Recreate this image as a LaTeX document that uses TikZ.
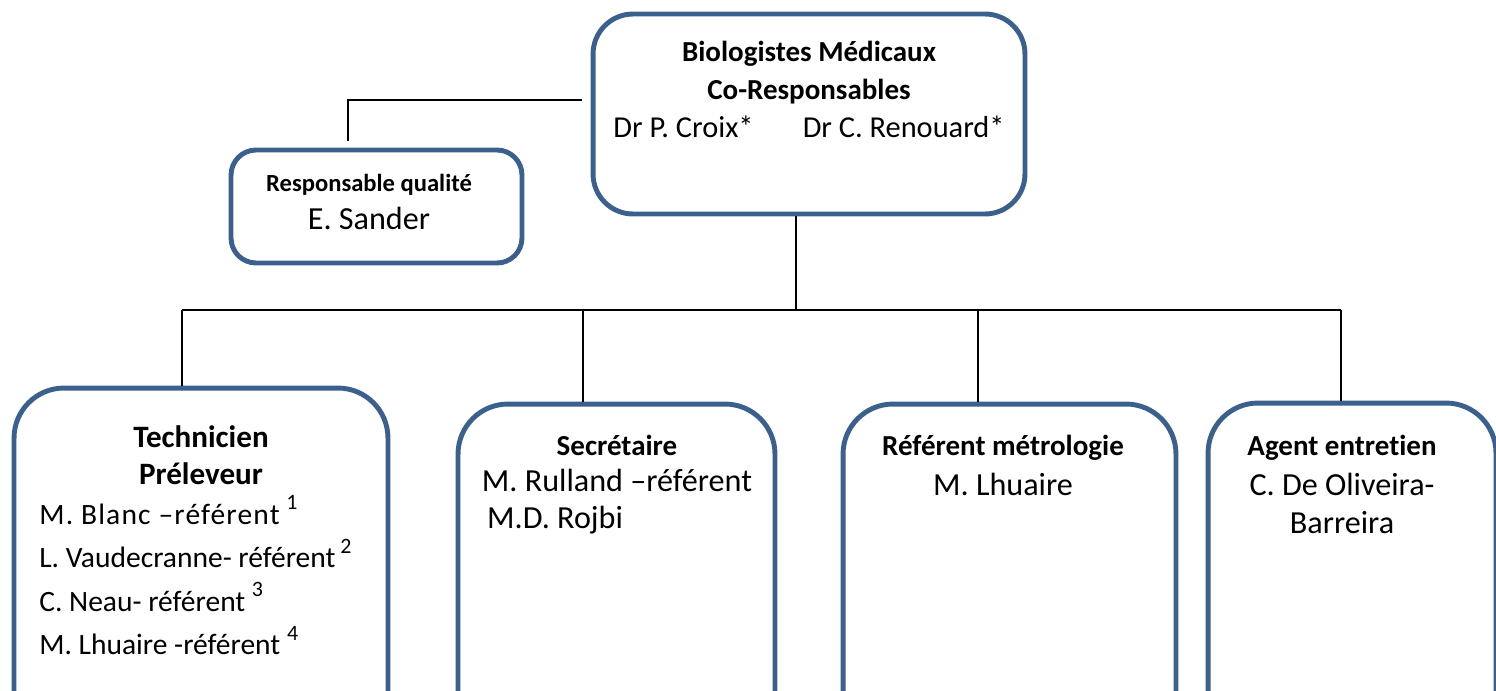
\documentclass[tikz,border=0pt]{standalone}
\usepackage{fontspec}
\setmainfont{Carlito}[Ligatures={TeX,NoCommon}]
\usetikzlibrary{positioning}
\definecolor{OrgBlue}{RGB}{60,96,142}
\tikzset{
    orgbox/.style={
        draw=OrgBlue, line width=2.8pt, fill=white, rounded corners=#1
    },
    orgbox/.default=1cm,
    orgline/.style={
        draw, line width=0.8pt
    },
    orgtitle/.style={
        anchor=north, align=center, inner sep=0pt, font=\fontsize{16.5}{21.5}\selectfont\bfseries
    },
    orgbody/.style={
        anchor=north, align=center, inner sep=0pt, font=\fontsize{18.3}{21.3}\selectfont
    }
}
\newcommand{\refnum}[2][~]{#1\raisebox{0.5em}{\fontsize{12.5}{12.5}\selectfont #2}}

\begin{document}
\begin{tikzpicture}[x=0.02cm, y=-0.02cm]
    \useasboundingbox (0,0) rectangle (1496,690);
    % boxes
    \node[orgbox=0.8cm, minimum width=8.64cm, minimum height=4cm] (bio) at (809,114) {};
    \node[orgbox=0.5cm, minimum width=5.82cm, minimum height=2.26cm] (qual) at (376.5,206.5) {};
    \node[orgbox, minimum width=7.48cm, minimum height=7.44cm] (tech) at (201,574) {};
    \node[orgbox, minimum width=6.34cm, minimum height=7.12cm] (sec) at (616.5,582) {};
    \node[orgbox, minimum width=6.66cm, minimum height=7.12cm] (met) at (1009.5,582) {};
    \node[orgbox, minimum width=5.76cm, minimum height=7.12cm] (agent) at (1352,581) {};
    % texts
    \node[orgtitle] (biotitle) at (809,41) {Biologistes Médicaux\\Co-Responsables\\
        {\mdseries\fontsize{17.3}{21.5}\selectfont Dr P. Croix*\hspace{28pt}Dr C. Renouard*}};
    \node[orgtitle, font=\fontsize{14}{19}\selectfont\bfseries] (qualtitle) at (369,174) {Responsable qualité};
    \node[orgbody, below=6pt of qualtitle] (qualbody) {E. Sander};
    \node[orgtitle, font=\fontsize{17.7}{21.5}\selectfont\bfseries] (techtitle) at (201,425) {Technicien\\Préleveur};
    \node[orgbody, anchor=north west, align=left, font=\fontsize{16.8}{24.8}\selectfont] (techbody) at (39,495)
        {{\addfontfeature{LetterSpace=4}M. Blanc --référent}\refnum{1}\\L. Vaudecranne- référent\refnum[\,]{2}\\
         C. Neau- référent\refnum{3}\\M. Lhuaire -référent\refnum{4}};
    \node[orgtitle] (sectitle) at (617,435) {Secrétaire};
    \node[orgbody, align=left, below=7pt of sectitle] (secbody) {M. Rulland --référent\\\hspace{3pt}M.D. Rojbi};
    \node[orgtitle] (mettitle) at (1003,435) {Référent métrologie};
    \node[orgbody, below=7pt of mettitle] (metbody) {M. Lhuaire};
    \node[orgtitle] (agenttitle) at (1342,435) {Agent entretien};
    \node[orgbody, below=7pt of agenttitle] (agentbody) {C. De Oliveira-\\Barreira};
    % connectors
    \coordinate (hub) at (796,310);
    \coordinate (qa) at (582,100);
    \coordinate (qb) at (348,141);
    \draw[orgline] (qa) -| (qb);
    \draw[orgline] (hub |- bio.south) -- (hub);
    \draw[orgline] (182,310) coordinate (d1) -- (1341,310) coordinate (d4);
    \coordinate (d2) at (583,310);
    \coordinate (d3) at (978,310);
    \draw[orgline] (d1) -- (d1 |- tech.north);
    \draw[orgline] (d2) -- (d2 |- sec.north);
    \draw[orgline] (d3) -- (d3 |- met.north);
    \draw[orgline] (d4) -- (d4 |- agent.north);
\end{tikzpicture}
\end{document}
